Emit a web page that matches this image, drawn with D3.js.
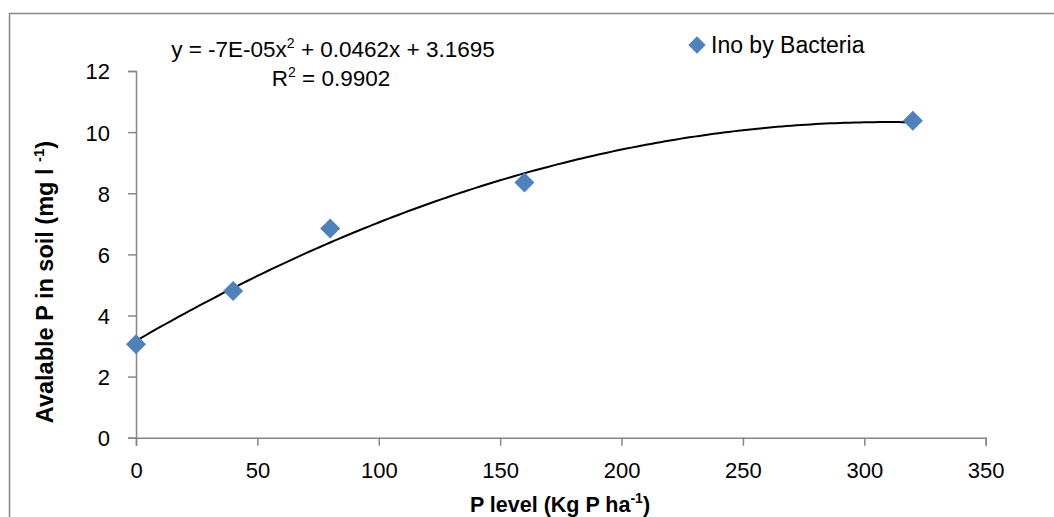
<!DOCTYPE html>
<html>
<head>
<meta charset="utf-8">
<script src="https://cdn.jsdelivr.net/npm/d3@7"></script>
<style>
  body { margin: 0; background: #fff; }
  svg text { font-family: "Liberation Sans", Arial, sans-serif; fill: #000; }
  .axis path, .axis line { stroke: #868686; stroke-width: 1.5; }
</style>
</head>
<body>
<div id="main"></div>
<script>
// P level (kg P / ha) and measured available P in soil
var pLevels = [0, 40, 80, 160, 320];
var availP = [3.06, 4.8, 6.85, 8.35, 10.37];
var xTicks = [0, 50, 100, 150, 200, 250, 300, 350];
var yTicks = [0, 2, 4, 6, 8, 10, 12];
var seriesName = 'Ino by Bacteria';

var W = 1054, H = 517;
var margin = { left: 136, right: 1054 - 985.7, top: 71, bottom: 517 - 437.7 };

var svg = d3.select('#main').append('svg')
    .attr('width', W).attr('height', H);

// outer chart frame
svg.append('rect')
    .attr('x', 9.5).attr('y', 13.5).attr('width', 1200).attr('height', 700)
    .attr('fill', 'none').attr('stroke', '#878787').attr('stroke-width', 1.5);

var x = d3.scaleLinear().domain([0, 350]).range([margin.left, W - margin.right]);
var y = d3.scaleLinear().domain([0, 12]).range([H - margin.bottom, margin.top]);

var xAxis = svg.append('g').attr('class', 'axis')
    .attr('transform', 'translate(0,' + y(0) + ')')
    .call(d3.axisBottom(x).tickValues(xTicks).tickSize(8).tickSizeOuter(8).tickPadding(17));
var yAxis = svg.append('g').attr('class', 'axis')
    .attr('transform', 'translate(' + x(0) + ',0)')
    .call(d3.axisLeft(y).tickValues(yTicks).tickSize(8).tickSizeOuter(8).tickPadding(18));

svg.selectAll('.axis text').attr('font-size', 22)
    .style('font-family', '"Liberation Sans", Arial, sans-serif').attr('fill', '#000');
yAxis.selectAll('text').attr('dy', '0.36em');

// quadratic least-squares trendline
function polyFit(xs, ys) {
    var S = [0, 0, 0, 0, 0], T = [0, 0, 0];
    xs.forEach(function(xv, i) {
        for (var k = 0; k < 5; k++) S[k] += Math.pow(xv, k);
        for (var j = 0; j < 3; j++) T[j] += ys[i] * Math.pow(xv, j);
    });
    var A = [[S[0], S[1], S[2], T[0]], [S[1], S[2], S[3], T[1]], [S[2], S[3], S[4], T[2]]];
    for (var c = 0; c < 3; c++) {
        for (var r = c + 1; r < 3; r++) {
            var f = A[r][c] / A[c][c];
            for (var k2 = c; k2 < 4; k2++) A[r][k2] -= f * A[c][k2];
        }
    }
    var coef = [0, 0, 0];
    for (var r2 = 2; r2 >= 0; r2--) {
        var s = A[r2][3];
        for (var k3 = r2 + 1; k3 < 3; k3++) s -= A[r2][k3] * coef[k3];
        coef[r2] = s / A[r2][r2];
    }
    return coef;
}
var coef = polyFit(pLevels, availP);
var curveX = d3.range(0, 320.5, 2);
var line = d3.line()
    .x(function(d) { return x(d); })
    .y(function(d) { return y(coef[0] + coef[1] * d + coef[2] * d * d); });
svg.append('path').datum(curveX)
    .attr('d', line).attr('fill', 'none')
    .attr('stroke', '#000').attr('stroke-width', 2);

var diamond = d3.symbol().type(d3.symbolSquare).size(200);
svg.selectAll('.pt').data(pLevels).enter().append('path')
    .attr('class', 'pt')
    .attr('d', diamond)
    .attr('transform', function(d, i) { return 'translate(' + x(d) + ',' + y(availP[i]) + ') rotate(45)'; })
    .attr('fill', '#4F81BD');

// trendline equation
var eq = svg.append('text').attr('x', 333).attr('y', 57)
    .attr('text-anchor', 'middle').attr('font-size', 22.5);
eq.append('tspan').text('y = -7E-05x');
eq.append('tspan').attr('font-size', 14).attr('dy', -9).text('2');
eq.append('tspan').attr('dy', 9).text(' + 0.0462x + 3.1695');
var r2 = svg.append('text').attr('x', 331).attr('y', 86)
    .attr('text-anchor', 'middle').attr('font-size', 22.5);
r2.append('tspan').text('R');
r2.append('tspan').attr('font-size', 14).attr('dy', -9).text('2');
r2.append('tspan').attr('dy', 9).text(' = 0.9902');

// legend
svg.append('path').attr('d', d3.symbol().type(d3.symbolSquare).size(150))
    .attr('transform', 'translate(697,45) rotate(45)').attr('fill', '#4F81BD');
svg.append('text').attr('x', 711).attr('y', 53).attr('font-size', 23).text(seriesName);

// axis titles
var xt = svg.append('text').attr('x', 560).attr('y', 512)
    .attr('text-anchor', 'middle').attr('font-size', 21.5).attr('font-weight', 'bold');
xt.append('tspan').text('P level (Kg P ha');
xt.append('tspan').attr('font-size', 14).attr('dy', -9).text('-1');
xt.append('tspan').attr('dy', 9).text(')');

var yt = svg.append('text').attr('transform', 'translate(53,282) rotate(-90)')
    .attr('text-anchor', 'middle').attr('font-size', 23.5).attr('font-weight', 'bold');
yt.append('tspan').text('Avalable P in soil (mg l ');
yt.append('tspan').attr('font-size', 15).attr('dy', -9).text('-1');
yt.append('tspan').attr('dy', 9).text(')');
</script>
</body>
</html>
